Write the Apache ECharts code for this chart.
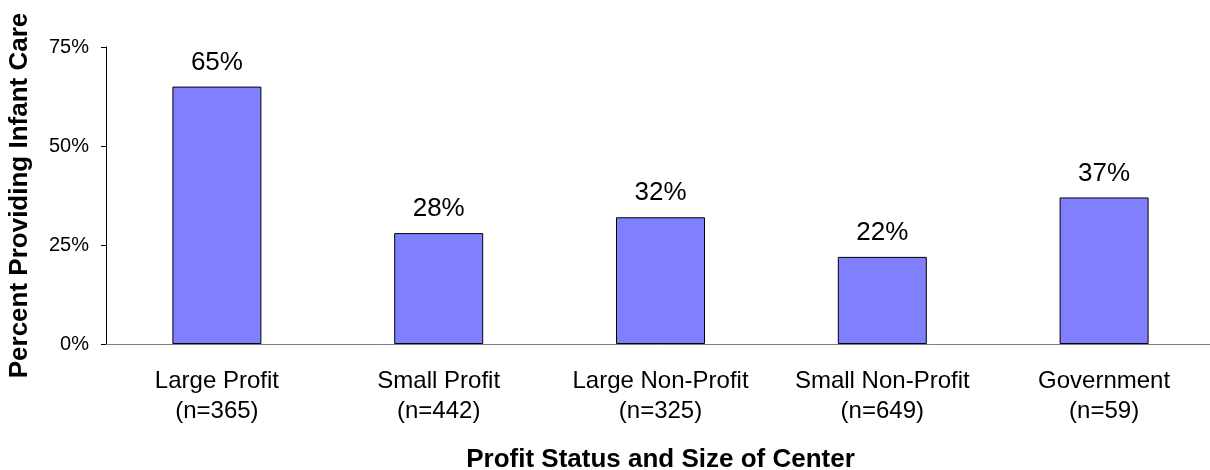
<!DOCTYPE html>
<html>
<head>
<meta charset="utf-8">
<script src="https://cdn.jsdelivr.net/npm/echarts@6/dist/echarts.min.js"></script>
<style>
  html, body { margin: 0; padding: 0; background: #fff; }
  #main { width: 1210px; height: 470px; }
</style>
</head>
<body>
<div id="main"></div>
<script>
// 数据
var categories = ['Large Profit', 'Small Profit', 'Large Non-Profit', 'Small Non-Profit', 'Government'];
var sampleSizes = ['n=365', 'n=442', 'n=325', 'n=649', 'n=59'];
var percents = [65, 28, 32, 22, 37];
var yTicks = [0, 25, 50, 75];

var labels = [];
for (var i in categories) {
    labels.push(categories[i] + '\n(' + sampleSizes[i] + ')');
}

var font = 'Arial, "Liberation Sans", sans-serif';
var myChart = echarts.init(document.getElementById('main'));

var option = {
    animation: false,
    grid: {
        left: 106,
        right: -5,
        top: 47,
        bottom: 126,
        containLabel: false,
        outerBoundsMode: 'none'
    },
    xAxis: {
        type: 'category',
        data: labels,
        name: 'Profit Status and Size of Center',
        nameLocation: 'middle',
        nameGap: 103,
        nameTextStyle: {
            fontFamily: font,
            fontSize: 26,
            fontWeight: 'bold',
            color: '#000'
        },
        axisLine: { lineStyle: { color: '#808080', width: 1 } },
        axisTick: { interval: 0, length: 5, lineStyle: { color: '#808080' } },
        axisLabel: {
            interval: 0,
            hideOverlap: false,
            margin: 22,
            fontFamily: font,
            fontSize: 24,
            lineHeight: 30,
            color: '#000'
        }
    },
    yAxis: {
        type: 'value',
        min: yTicks[0],
        max: yTicks[yTicks.length - 1],
        interval: 25,
        name: 'Percent Providing Infant Care',
        nameLocation: 'middle',
        nameGap: 73,
        nameTextStyle: {
            fontFamily: font,
            fontSize: 26,
            fontWeight: 'bold',
            color: '#000'
        },
        axisLine: { show: true, lineStyle: { color: '#000', width: 1 } },
        axisTick: { show: true, length: 5, lineStyle: { color: '#000' } },
        splitLine: { show: false },
        axisLabel: {
            margin: 17,
            fontFamily: font,
            fontSize: 20,
            color: '#000',
            formatter: '{value}%'
        }
    },
    series: [
        {
            type: 'bar',
            data: percents,
            barWidth: 89,
            itemStyle: {
                color: '#8080FF',
                borderColor: '#000',
                borderWidth: 1
            },
            label: {
                show: true,
                position: 'top',
                distance: 11,
                fontFamily: font,
                fontSize: 26,
                color: '#000',
                formatter: '{c}%'
            }
        }
    ]
};

myChart.setOption(option);
</script>
</body>
</html>
